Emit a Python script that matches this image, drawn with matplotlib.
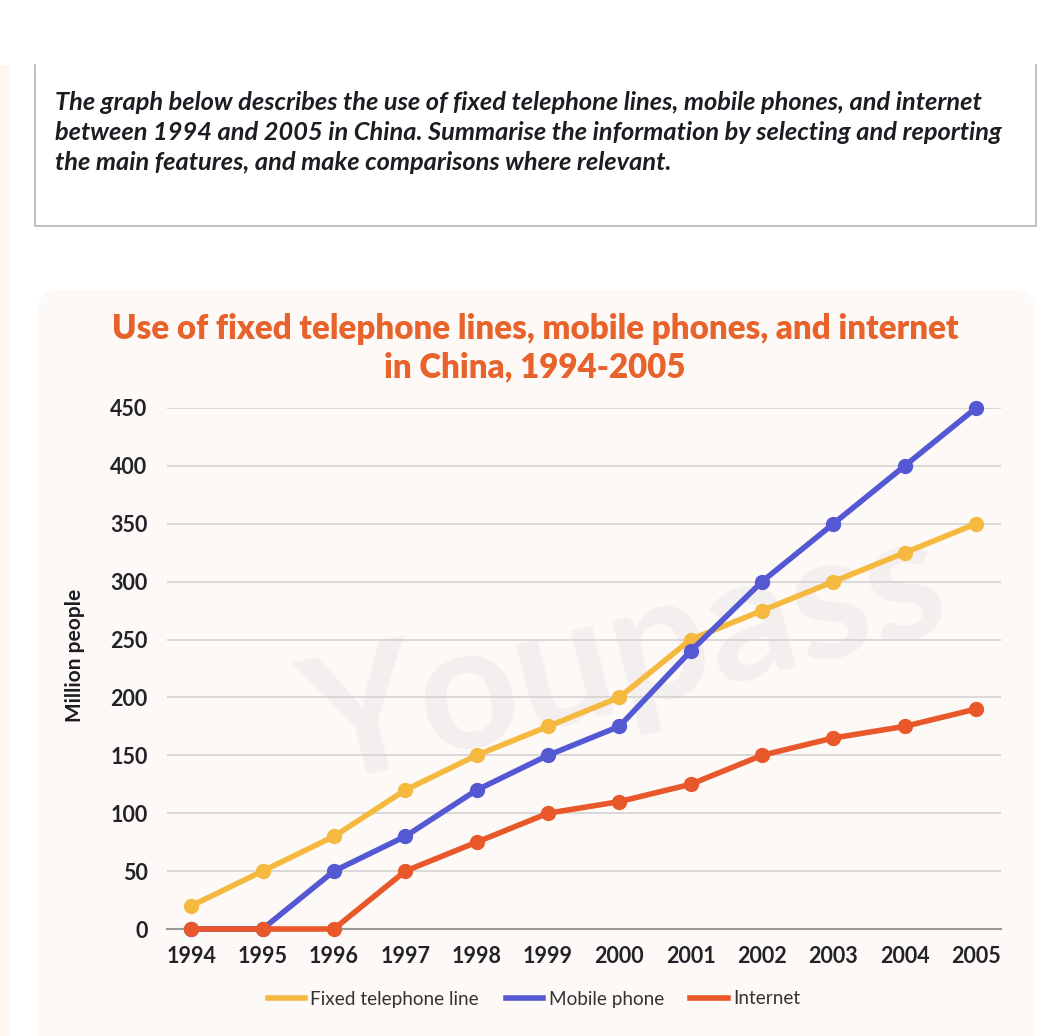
import matplotlib.pyplot as plt
from matplotlib.patches import FancyBboxPatch, Rectangle

years = [1994, 1995, 1996, 1997, 1998, 1999, 2000, 2001, 2002, 2003, 2004, 2005]
fixed_line = [20, 50, 80, 120, 150, 175, 200, 250, 275, 300, 325, 350]
mobile = [0, 0, 50, 80, 120, 150, 175, 240, 300, 350, 400, 450]
internet = [0, 0, 0, 50, 75, 100, 110, 125, 150, 165, 175, 190]
y_ticks = [0, 50, 100, 150, 200, 250, 300, 350, 400, 450]

prompt = ("The graph below describes the use of fixed telephone lines, mobile phones, and internet\n"
          "between 1994 and 2005 in China. Summarise the information by selecting and reporting\n"
          "the main features, and make comparisons where relevant.")
title = "Use of fixed telephone lines, mobile phones, and internet\nin China, 1994-2005"

plt.rcParams['font.family'] = ['Lato', 'DejaVu Sans']

W, H = 1063, 1036
fig = plt.figure(figsize=(W / 100, H / 100), dpi=100)
fig.patch.set_facecolor('white')

# pale strip on the left edge of the page
fig.patches.append(Rectangle((0, 0), 10 / W, 1 - 65 / H, transform=fig.transFigure,
                             facecolor='#fdf6f1', edgecolor='none', zorder=-2))

# prompt box (top edge hidden)
x0, x1 = 35 / W, 1036 / W
ytop, ybot = 1 - 65 / H, 1 - 226 / H
fig.add_artist(plt.Line2D([x0, x0, x1, x1], [ytop, ybot, ybot, ytop],
                          transform=fig.transFigure, color='#b5b5b5', lw=1.2))
fig.text(55 / W, 1 - 91 / H, prompt, ha='left', va='top', fontsize=18.3,
         fontweight='bold', fontstyle='italic', color='#1c1c22', linespacing=1.38)

# chart panel
fig.patches.append(FancyBboxPatch((38 / W, -0.02), 997 / W, (1 - 290 / H) + 0.02,
                                  boxstyle='round,pad=0,rounding_size=0.02',
                                  transform=fig.transFigure, facecolor='#fdf9f7',
                                  edgecolor='none', zorder=-2))

fig.text(535 / W, 1 - 348 / H, title, ha='center', va='center', fontsize=23.8,
         fontweight='heavy', color='#e8622c', linespacing=1.22)

ax = fig.add_axes([167 / W, 1 - 929 / H, (1001 - 167) / W, (929 - 408) / H])
ax.set_facecolor('none')
ax.set_zorder(2)

# faint watermark
ax.text(0.55, 0.52, 'Youpass', transform=ax.transAxes, fontsize=125, fontweight='bold',
        color='#f3efee', rotation=14, ha='center', va='center', zorder=0.5)

ax.plot(years, fixed_line, color='#f5b940', lw=4, marker='o', ms=10,
        label='Fixed telephone line', zorder=3, clip_on=False)
ax.plot(years, mobile, color='#5558d3', lw=4, marker='o', ms=10,
        label='Mobile phone', zorder=4, clip_on=False)
ax.plot(years, internet, color='#e8582a', lw=4, marker='o', ms=10,
        label='Internet', zorder=5, clip_on=False)

ax.set_xlim(1993.66, 2005.35)
ax.set_ylim(0, 450)
ax.set_xticks(years, labels=[str(y) for y in years], fontweight='bold')
ax.set_yticks(y_ticks, labels=[str(v) for v in y_ticks], fontweight='bold')
ax.tick_params(axis='both', length=0, labelsize=15.5, colors='#222228')
ax.tick_params(axis='x', pad=12)
ax.tick_params(axis='y', pad=14)
ax.grid(axis='y', color='#d4d2d2', lw=1.2)
ax.set_axisbelow(True)
for s in ['top', 'right', 'left']:
    ax.spines[s].set_visible(False)
ax.spines['bottom'].set_color('#9a9a9a')
ax.spines['bottom'].set_linewidth(1.5)

fig.text(75 / W, 1 - 655 / H, 'Million people', rotation=90, ha='center', va='center',
         fontsize=15, fontweight='bold', color='#1c1c22')

fig.legend(loc='center', bbox_to_anchor=(534 / W, 1 - 999 / H), ncol=3, frameon=False,
           fontsize=13.7, handlelength=1.95, handletextpad=0.3, columnspacing=1.4,
           labelcolor='#333333')
for h in fig.legends[0].legend_handles:
    h.set_marker('')
    h.set_linewidth(4)

fig.savefig('out.png', dpi=100)
